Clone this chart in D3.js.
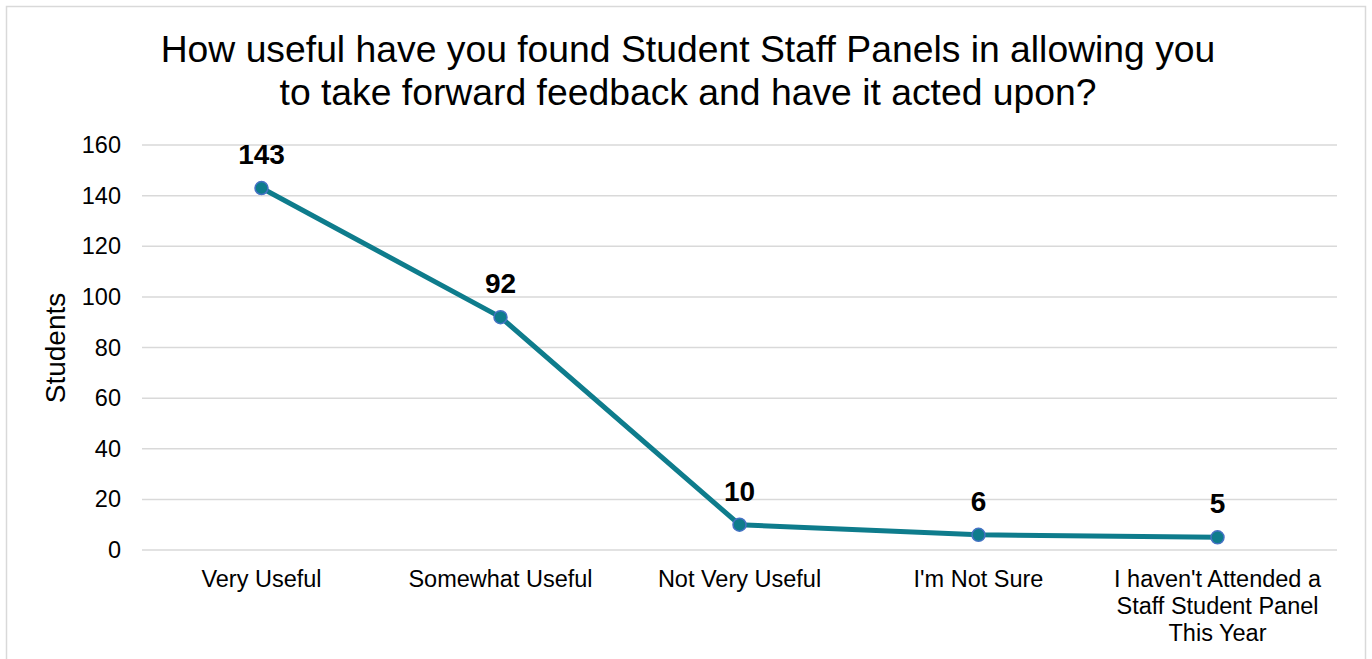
<!DOCTYPE html>
<html>
<head>
<meta charset="utf-8">
<script src="https://cdn.jsdelivr.net/npm/d3@7"></script>
<style>
	body { margin:0; background:#fff; font-family:"Liberation Sans", Arial, sans-serif; }
</style>
</head>
<body>
<svg id="chart" width="1372" height="659"></svg>
<script>
	var categories = ["Very Useful", "Somewhat Useful", "Not Very Useful", "I'm Not Sure", "I haven't Attended a|Staff Student Panel|This Year"];
	var values = [143, 92, 10, 6, 5];
	var yTicks = [0, 20, 40, 60, 80, 100, 120, 140, 160];
	var titleLines = ["How useful have you found Student Staff Panels in allowing you", "to take forward feedback and have it acted upon?"];

	var svg = d3.select("#chart");
	var plotLeft = 142, plotRight = 1337, plotTop = 145, plotBottom = 550;
	var teal = "#0e7c8c";

	// chart border
	svg.append("rect")
		.attr("x", 6.5).attr("y", 6.5)
		.attr("width", 1359).attr("height", 670)
		.attr("fill", "#fff").attr("stroke", "#d9d9d9").attr("stroke-width", 1.5);

	var x = d3.scaleBand().domain(categories).range([plotLeft, plotRight]);
	var y = d3.scaleLinear().domain([0, 160]).range([plotBottom, plotTop]);

	// gridlines
	svg.append("g").selectAll("line")
		.data(yTicks)
		.enter().append("line")
		.attr("x1", plotLeft).attr("x2", plotRight)
		.attr("y1", function(d){ return y(d); })
		.attr("y2", function(d){ return y(d); })
		.attr("stroke", "#d9d9d9").attr("stroke-width", 1.5);

	// y axis labels
	var yAxis = d3.axisLeft(y).tickValues(yTicks).tickSize(0).tickPadding(21);
	var gy = svg.append("g").attr("transform", "translate(" + plotLeft + ",0)").call(yAxis);
	gy.select(".domain").remove();
	gy.selectAll("text").attr("font-size", 23.5).attr("fill", "#000")
		.attr("font-family", "Liberation Sans, Arial, sans-serif");

	// x axis labels
	var xAxis = d3.axisBottom(x).tickSize(0).tickFormat("");
	var gx = svg.append("g").attr("transform", "translate(0," + plotBottom + ")").call(xAxis);
	gx.select(".domain").remove();
	gx.selectAll(".tick").each(function(d) {
		var t = d3.select(this).append("text")
			.attr("text-anchor", "middle").attr("font-size", 23.5).attr("fill", "#000")
			.attr("font-family", "Liberation Sans, Arial, sans-serif");
		d.split("|").forEach(function(s, i) {
			t.append("tspan").attr("x", 0).attr("y", 37 + i * 27).text(s);
		});
	});

	// axis title
	svg.append("text")
		.attr("transform", "translate(65,348) rotate(-90)")
		.attr("text-anchor", "middle").attr("font-size", 28).attr("fill", "#000")
		.text("Students");

	// title
	svg.append("text")
		.attr("text-anchor", "middle").attr("font-size", 37.3).attr("fill", "#000")
		.selectAll("tspan").data(titleLines).enter().append("tspan")
		.attr("x", 688).attr("y", function(d, i){ return 62 + i * 43; })
		.text(function(d){ return d; });

	var cx = function(d, i){ return x(categories[i]) + x.bandwidth() / 2; };

	// line
	var line = d3.line()
		.x(function(d, i){ return cx(d, i); })
		.y(function(d){ return y(d); });
	svg.append("path").datum(values)
		.attr("d", line).attr("fill", "none")
		.attr("stroke", teal).attr("stroke-width", 5)
		.attr("stroke-linejoin", "round");

	// markers
	svg.append("g").selectAll("circle")
		.data(values).enter().append("circle")
		.attr("cx", cx).attr("cy", function(d){ return y(d); })
		.attr("r", 6.5)
		.attr("fill", teal).attr("stroke", "#4472c4").attr("stroke-width", 1.5);

	// data labels
	svg.append("g").selectAll("text")
		.data(values).enter().append("text")
		.attr("x", cx).attr("y", function(d){ return y(d) - 24; })
		.attr("text-anchor", "middle").attr("font-size", 28).attr("font-weight", "bold")
		.attr("fill", "#000")
		.text(function(d){ return d; });
</script>
</body>
</html>
